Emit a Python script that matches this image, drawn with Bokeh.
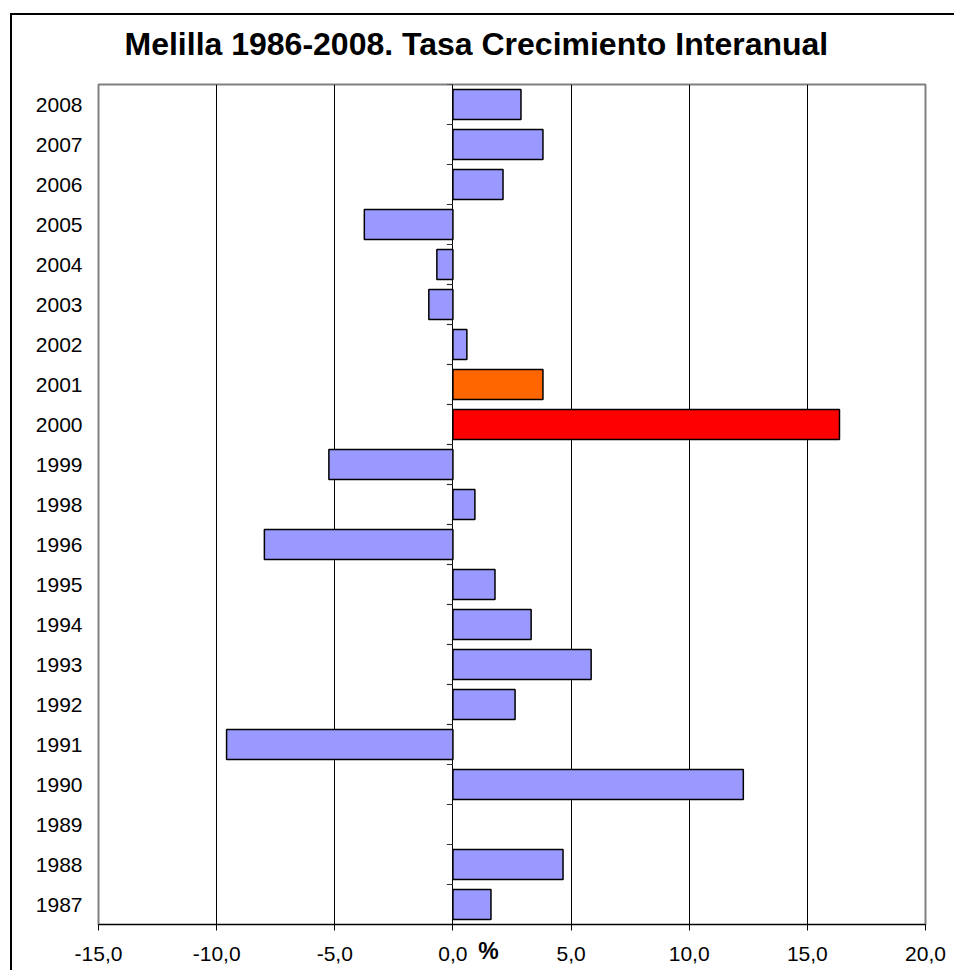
from bokeh.plotting import figure
from bokeh.models import FactorRange, Range1d, FixedTicker, LinearAxis, ColumnDataSource
from bokeh.embed import file_html
from bokeh.resources import INLINE

# ---- data (bottom to top) ----
years = ["1987", "1988", "1989", "1990", "1991", "1992", "1993", "1994", "1995", "1996",
         "1998", "1999", "2000", "2001", "2002", "2003", "2004", "2005", "2006", "2007", "2008"]
growth = [1.61, 4.66, None, 12.29, -9.58, 2.63, 5.85, 3.31, 1.78, -7.98,
          0.93, -5.25, 16.36, 3.81, 0.59, -1.02, -0.68, -3.75, 2.12, 3.81, 2.88]
x_ticks = [-15, -10, -5, 0, 5, 10, 15, 20]
x_tick_labels = ["-15,0", "-10,0", "-5,0", "0,0", "5,0", "10,0", "15,0", "20,0"]
title_text = "Melilla 1986-2008. Tasa Crecimiento Interanual"
axis_unit = "%"
unit_label_at = 1.5   # position of the "%" unit text along the x axis

# ---- styles ----
base_color = "#9999FF"
highlight = {"2000": "#FF0000", "2001": "#FF6600"}
FONT = "Liberation Sans"

bar_years = [y for y, v in zip(years, growth) if v is not None]
bar_vals = [v for v in growth if v is not None]
bar_colors = [highlight.get(y, base_color) for y in bar_years]
src = ColumnDataSource(dict(year=bar_years, value=bar_vals, color=bar_colors))

# outer chart frame (left and top edges visible, the rest runs off the page)
frame_css = ("linear-gradient(#000,#000) 10px 13px / 2px calc(100% - 13px) no-repeat, "
             "linear-gradient(#000,#000) 10px 13px / calc(100% - 10px) 2px no-repeat, #ffffff")

p = figure(
    y_range=FactorRange(factors=years),
    x_range=Range1d(x_ticks[0], x_ticks[-1]),
    width=954, height=970,
    output_backend="svg", toolbar_location=None,
    min_border_left=98, min_border_right=29, min_border_top=84, min_border_bottom=46,
    styles={"background": frame_css},
)
p.background_fill_color = "white"
p.border_fill_alpha = 0
p.outline_line_color = "#808080"
p.outline_line_width = 2

p.title.text = title_text
p.title.text_font = FONT
p.title.text_font_size = "32px"
p.title.text_font_style = "bold"
p.title.text_color = "black"
p.title.align = "left"
p.title.offset = 26
p.title.standoff = 45

# vertical gridlines
p.xgrid.ticker = FixedTicker(ticks=x_ticks)
p.xgrid.grid_line_color = "black"
p.xgrid.grid_line_width = 1
p.ygrid.grid_line_color = None

# bars
p.hbar(y="year", left=0, right="value", height=0.75, fill_color="color",
       line_color="black", line_width=1.5, source=src)

# category tick stubs on the zero axis
p.segment(x0=0, x1=-0.26, y0=[(y, 0.5) for y in years], y1=[(y, 0.5) for y in years],
          line_color="#333333", line_width=1.2)

# x axis
xa = p.xaxis[0]
xa.ticker = FixedTicker(ticks=x_ticks)
xa.major_label_overrides = {t: l for t, l in zip(x_ticks, x_tick_labels)}
xa.axis_line_color = "black"
xa.axis_line_width = 1
xa.major_tick_out = 6
xa.major_tick_in = 0
xa.major_tick_line_color = "black"
xa.minor_tick_line_color = None
xa.major_label_text_font = FONT
xa.major_label_text_font_size = "21px"
xa.major_label_text_color = "black"
xa.major_label_standoff = 16

# "%" unit text, on the same row as the tick labels
ua = LinearAxis(ticker=FixedTicker(ticks=[unit_label_at]),
                major_label_overrides={unit_label_at: axis_unit})
ua.axis_line_color = None
ua.major_tick_line_color = None
ua.minor_tick_line_color = None
ua.major_tick_out = 0
ua.major_tick_in = 0
ua.major_label_text_font = FONT
ua.major_label_text_font_size = "23px"
ua.major_label_text_font_style = "bold"
ua.major_label_text_color = "black"
ua.major_label_standoff = -26
p.add_layout(ua, "below")

# y axis
ya = p.yaxis[0]
ya.axis_line_color = None
ya.major_tick_line_color = None
ya.major_tick_out = 0
ya.major_tick_in = 0
ya.minor_tick_line_color = None
ya.major_label_text_font = FONT
ya.major_label_text_font_size = "21px"
ya.major_label_text_color = "black"
ya.major_label_standoff = 16

open("out.html", "w").write(file_html(p, INLINE))
